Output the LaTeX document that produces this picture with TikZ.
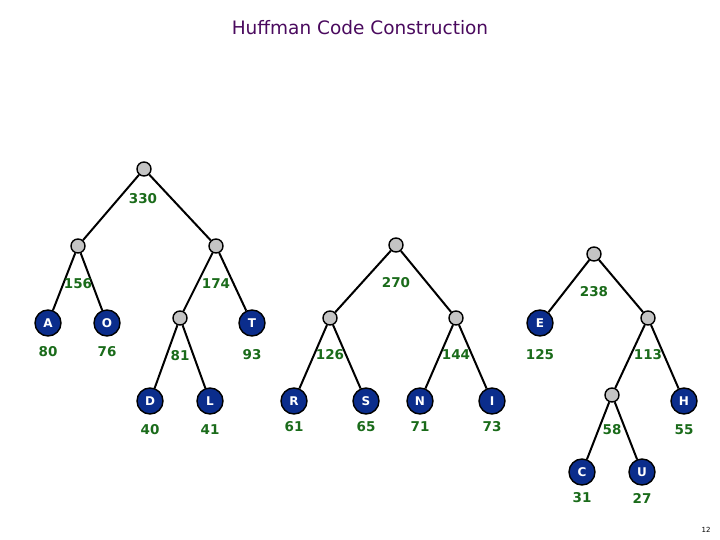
\documentclass[tikz,border=0pt]{standalone}
\usepackage{fontspec}
\setmainfont{DejaVu Sans}
\definecolor{titlec}{HTML}{4A0A5E}
\definecolor{numc}{HTML}{1A6B1A}
\definecolor{leafc}{HTML}{0B2D8C}
\definecolor{innc}{HTML}{C4C4C4}
\begin{document}
\begin{tikzpicture}[x=1pt,y=-1pt,
  inner/.style={circle,draw=black,line width=1.4pt,fill=innc,minimum size=14pt,inner sep=0pt},
  leaf/.style={circle,draw=black,line width=1.4pt,fill=leafc,minimum size=26pt,inner sep=0pt,text=white,font=\bfseries\fontsize{12}{12}\selectfont},
  num/.style={text=numc,font=\bfseries\fontsize{13.5}{13.5}\selectfont,inner sep=1pt},
  edge/.style={line width=2pt,draw=black}]
\useasboundingbox (0,0) rectangle (720,540);
\node[text=titlec,font=\fontsize{18.5}{18.5}\selectfont] (title) at (360,28) {Huffman Code Construction};
% internal nodes
\node[inner] (n330) at (144,169) {};
\node[inner] (n156) at (78,246) {};
\node[inner] (n174) at (216,246) {};
\node[inner] (n81) at (180,318) {};
\node[inner] (n270) at (396,245) {};
\node[inner] (n126) at (330,318) {};
\node[inner] (n144) at (456,318) {};
\node[inner] (n238) at (594,254) {};
\node[inner] (n113) at (648,318) {};
\node[inner] (n58) at (612,395) {};
% leaves
\node[leaf] (A) at (48,323) {A};
\node[leaf] (O) at (107,323) {O};
\node[leaf] (T) at (252,323) {T};
\node[leaf] (E) at (540,323) {E};
\node[leaf] (D) at (150,401) {D};
\node[leaf] (L) at (210,401) {L};
\node[leaf] (R) at (294,401) {R};
\node[leaf] (S) at (366,401) {S};
\node[leaf] (N) at (420,401) {N};
\node[leaf] (I) at (492,401) {I};
\node[leaf] (H) at (684,401) {H};
\node[leaf] (C) at (582,472) {C};
\node[leaf] (U) at (642,472) {U};
% edges
\draw[edge] (n330) -- (n156);
\draw[edge] (n330) -- (n174);
\draw[edge] (n156) -- (A);
\draw[edge] (n156) -- (O);
\draw[edge] (n174) -- (n81);
\draw[edge] (n174) -- (T);
\draw[edge] (n81) -- (D);
\draw[edge] (n81) -- (L);
\draw[edge] (n270) -- (n126);
\draw[edge] (n270) -- (n144);
\draw[edge] (n126) -- (R);
\draw[edge] (n126) -- (S);
\draw[edge] (n144) -- (N);
\draw[edge] (n144) -- (I);
\draw[edge] (n238) -- (E);
\draw[edge] (n238) -- (n113);
\draw[edge] (n113) -- (n58);
\draw[edge] (n113) -- (H);
\draw[edge] (n58) -- (C);
\draw[edge] (n58) -- (U);
% weight labels
\node[num] (w330) at (143,199) {330};
\node[num] (w156) at (78,284) {156};
\node[num] (w174) at (216,284) {174};
\node[num] (w80) at (48,352) {80};
\node[num] (w76) at (107,352) {76};
\node[num] (w81) at (180,356) {81};
\node[num] (w93) at (252,355) {93};
\node[num] (w270) at (396,283) {270};
\node[num] (w126) at (330,355) {126};
\node[num] (w144) at (456,355) {144};
\node[num] (w238) at (594,292) {238};
\node[num] (w125) at (540,355) {125};
\node[num] (w113) at (648,355) {113};
\node[num] (w40) at (150,430) {40};
\node[num] (w41) at (210,430) {41};
\node[num] (w61) at (294,427) {61};
\node[num] (w65) at (366,427) {65};
\node[num] (w71) at (420,427) {71};
\node[num] (w73) at (492,427) {73};
\node[num] (w58) at (612,430) {58};
\node[num] (w55) at (684,430) {55};
\node[num] (w31) at (582,498) {31};
\node[num] (w27) at (642,498) {27};
\node[font=\fontsize{7}{7}\selectfont] (page) at (706,530) {12};
\end{tikzpicture}
\end{document}
